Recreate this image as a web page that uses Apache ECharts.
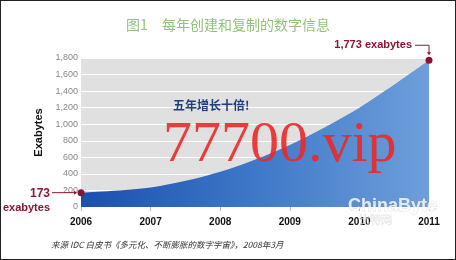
<!DOCTYPE html>
<html>
<head>
<meta charset="utf-8">
<script src="https://cdn.jsdelivr.net/npm/echarts@6/dist/echarts.min.js"></script>
<style>
html,body{margin:0;padding:0;background:#fff;}
#c{width:454px;height:258px;border:1px solid #222;}
</style>
</head>
<body>
<div id="c"></div>
<script>
const years = ['2006','2007','2008','2009','2010','2011'];
const exabytes = [173, 235, 425, 750, 1200, 1773];
const yTicks = [0, 200, 400, 600, 800, 1000, 1200, 1400, 1600, 1800];
const titleText = '图1　每年创建和复制的数字信息';
const noteText = '五年增长十倍!';
const sourceText = '来源 IDC 白皮书《多元化、不断膨胀的数字宇宙》，2008年3月';
const firstLabel = ['173', 'exabytes'];
const lastLabel = '1,773 exabytes';

const chart = echarts.init(document.getElementById('c'), null, {renderer: 'canvas'});
const last = exabytes.length - 1;
const seriesData = exabytes.map((v, i) => ({
  value: v,
  symbol: (i === 0 || i === last) ? 'circle' : 'none'
}));

const option = {
  animation: false,
  backgroundColor: '#fff',
  title: {
    text: titleText,
    left: 'center',
    top: 12,
    textStyle: {color: '#92c27a', fontSize: 14, fontWeight: 'normal', fontFamily: 'Noto Sans CJK SC'}
  },
  grid: {left: 80, right: 26, top: 57, bottom: 52},
  xAxis: {
    type: 'category',
    data: years,
    boundaryGap: false,
    axisLine: {show: false},
    axisTick: {show: true, length: 4, lineStyle: {color: '#bbb'}},
    axisLabel: {color: '#111', fontWeight: 'bold', fontSize: 10, margin: 10, fontFamily: 'Liberation Sans'},
    splitLine: {show: false}
  },
  yAxis: {
    type: 'value',
    min: yTicks[0],
    max: yTicks[yTicks.length - 1],
    interval: yTicks[1] - yTicks[0],
    name: 'Exabytes',
    nameLocation: 'middle',
    nameGap: 30,
    nameTextStyle: {color: '#111', fontWeight: 'bold', fontSize: 11, fontFamily: 'Liberation Sans'},
    axisLine: {show: false},
    axisTick: {show: false},
    axisLabel: {color: '#888', fontSize: 9, margin: 3, fontFamily: 'Liberation Sans',
      formatter: v => v.toLocaleString('en-US')},
    splitLine: {show: true, lineStyle: {color: '#fff', width: 1}},
    splitArea: {show: false}
  },
  series: [{
    type: 'line',
    data: seriesData,
    smooth: 0.3,
    symbolSize: 7,
    showSymbol: true,
    lineStyle: {width: 0},
    itemStyle: {color: '#8a1530'},
    areaStyle: {
      opacity: 1,
      color: new echarts.graphic.LinearGradient(0, 0, 1, 0, [
        {offset: 0, color: '#1a4fae'},
        {offset: 0.5, color: '#3f78c8'},
        {offset: 1, color: '#6e9fdb'}
      ])
    },
    z: 3
  }]
};
chart.setOption(option);

const p0 = chart.convertToPixel({gridIndex: 0}, [0, yTicks[yTicks.length - 1]]);
const p1 = chart.convertToPixel({gridIndex: 0}, [last, 0]);
const a = chart.convertToPixel({seriesIndex: 0}, [0, exabytes[0]]);
const b = chart.convertToPixel({seriesIndex: 0}, [last, exabytes[last]]);
const red = '#8a1530';

chart.setOption({
  graphic: [
    {type: 'rect', z: -1, shape: {x: p0[0], y: p0[1], width: p1[0] - p0[0], height: p1[1] - p0[1]},
     style: {fill: '#e0e0e0'}, silent: true},
    {type: 'text', z: 10, style: {text: lastLabel, x: b[0] - 17, y: b[1] - 15, align: 'right', verticalAlign: 'middle',
      fill: red, font: 'bold 11px Liberation Sans'}},
    {type: 'polyline', z: 10, shape: {points: [[b[0] - 14, b[1] - 15], [b[0], b[1] - 15], [b[0], b[1] - 7]]},
     style: {stroke: red, lineWidth: 1, fill: null}},
    {type: 'polygon', z: 10, shape: {points: [[b[0] - 2, b[1] - 8], [b[0] + 2, b[1] - 8], [b[0], b[1] - 5]]},
     style: {fill: red}},
    {type: 'text', z: 10, style: {text: firstLabel[0], x: a[0] - 31, y: a[1] + 1, align: 'right', verticalAlign: 'middle',
      fill: red, font: 'bold 12px Liberation Sans'}},
    {type: 'text', z: 10, style: {text: firstLabel[1], x: a[0] - 31, y: a[1] + 15, align: 'right', verticalAlign: 'middle',
      fill: red, font: 'bold 11px Liberation Sans'}},
    {type: 'line', z: 10, shape: {x1: a[0] - 29, y1: a[1], x2: a[0] - 6, y2: a[1]},
     style: {stroke: red, lineWidth: 1}},
    {type: 'polygon', z: 10, shape: {points: [[a[0] - 7, a[1] - 2], [a[0] - 7, a[1] + 2], [a[0] - 4, a[1]]]},
     style: {fill: red}},
    {type: 'text', z: 10, style: {text: noteText, x: 172, y: 104, verticalAlign: 'middle',
      fill: '#1f3f7a', font: 'bold 12px "Noto Sans CJK SC"'}},
    {type: 'text', z: 10, style: {text: sourceText, x: 50, y: 244, verticalAlign: 'middle',
      fill: '#333', font: 'italic 8.5px "Noto Sans CJK SC"'}},
    {type: 'text', z: 20, style: {text: '77700.vip', x: 162, y: 145, verticalAlign: 'middle',
      fill: 'rgba(235,40,40,0.9)', font: '58px "Liberation Serif"'}},
    {type: 'text', z: 20, style: {text: 'ChinaByte', x: 347, y: 205, verticalAlign: 'middle',
      fill: 'rgba(255,255,255,0.8)', stroke: 'rgba(150,150,150,0.5)', lineWidth: 0.5, font: 'bold 18px "Liberation Sans"'}},
    {type: 'text', z: 20, style: {text: '比特网', x: 358, y: 219, verticalAlign: 'middle',
      fill: 'rgba(255,255,255,0.6)', stroke: 'rgba(150,150,150,0.4)', lineWidth: 0.5, font: '11px "Noto Sans CJK SC"'}}
  ]
});
</script>
</body>
</html>
